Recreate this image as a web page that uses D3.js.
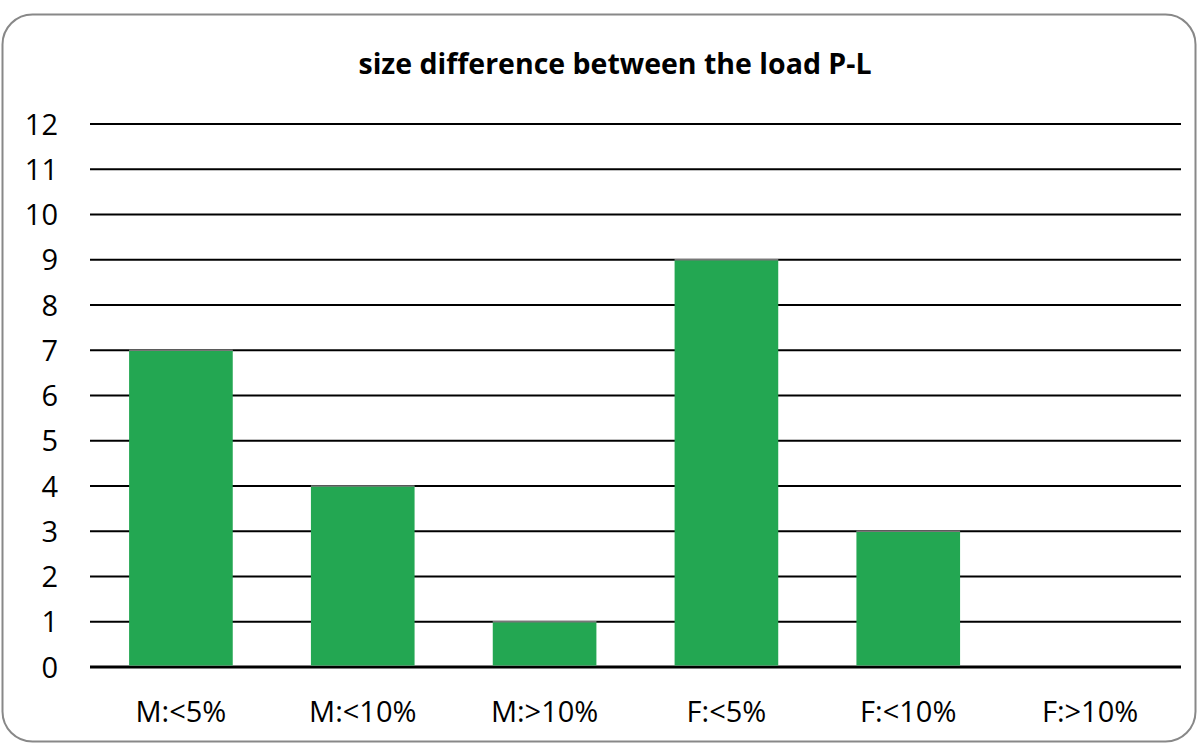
<!DOCTYPE html>
<html><head><meta charset="utf-8">
<script src="https://cdn.jsdelivr.net/npm/d3@7"></script>
<style>body{margin:0;background:#fff}svg{display:block}</style>
</head><body>
<script>
const categories = ["M:<5%","M:<10%","M:>10%","F:<5%","F:<10%","F:>10%"];
const values = [7,4,1,9,3,0];
const yTicks = [0,1,2,3,4,5,6,7,8,9,10,11,12];
const title = "size difference between the load P-L";

const W = 1199, H = 744;
const svg = d3.select("body").append("svg").attr("width", W).attr("height", H);
const font = "'Open Sans', 'Liberation Sans', sans-serif";

svg.append("rect").attr("x", 2.5).attr("y", 14.5).attr("width", 1193).attr("height", 727)
  .attr("rx", 30).attr("ry", 30).attr("fill", "#fff").attr("stroke", "#888").attr("stroke-width", 2);

const m = {left: 90, right: 1181, top: 124, bottom: 667};
const x = d3.scaleBand().domain(categories).range([m.left, m.right]).paddingInner(0.43).paddingOuter(0.215);
const y = d3.scaleLinear().domain([0, 12]).range([m.bottom, m.top]);

svg.append("text").attr("x", 615).attr("y", 74).attr("text-anchor", "middle")
  .attr("font-family", font).attr("font-weight", "bold").attr("font-size", 28.5).attr("fill", "#000").text(title);

// gridlines
svg.append("g").selectAll("line").data(yTicks).join("line")
  .attr("x1", m.left).attr("x2", m.right)
  .attr("y1", d => y(d)).attr("y2", d => y(d))
  .attr("stroke", "#000").attr("stroke-width", d => d === 0 ? 3 : 2);

// bars
svg.append("g").selectAll("rect").data(values).join("rect")
  .attr("x", (d, i) => x(categories[i])).attr("width", x.bandwidth())
  .attr("y", d => y(d)).attr("height", d => Math.max(0, y(0) - y(d) - 1.5))
  .attr("fill", "#23A752");
svg.append("g").selectAll("line").data(categories.map((c, i) => ({c, v: values[i]})).filter(d => d.v > 0)).join("line")
  .attr("x1", d => x(d.c)).attr("x2", d => x(d.c) + x.bandwidth())
  .attr("y1", d => y(d.v)).attr("y2", d => y(d.v))
  .attr("stroke", "#777").attr("stroke-width", 1.5);

// y axis labels
const yAxis = d3.axisLeft(y).tickValues(yTicks).tickSize(0).tickPadding(0);
const ga = svg.append("g").attr("transform", `translate(58,0)`).call(yAxis);
ga.attr("font-size", null).attr("font-family", null);
ga.select(".domain").remove();
ga.selectAll("text").attr("font-family", font).attr("font-size", 29).attr("fill", "#000").attr("dy", "0.35em");

// x axis labels
const xAxis = d3.axisBottom(x).tickSize(0).tickPadding(0);
const gx = svg.append("g").attr("transform", `translate(0,722)`).call(xAxis);
gx.attr("font-size", null).attr("font-family", null);
gx.select(".domain").remove();
gx.selectAll("text").attr("font-family", font).attr("font-size", 29).attr("fill", "#000").attr("dy", "0");
</script>
</body></html>
